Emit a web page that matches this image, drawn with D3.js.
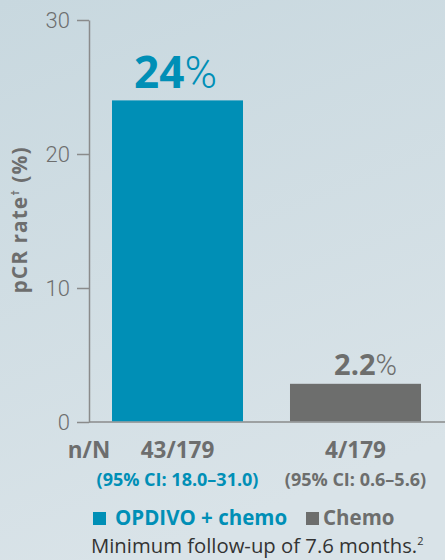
<!DOCTYPE html>
<html>
<head>
<meta charset="utf-8">
<script src="https://cdn.jsdelivr.net/npm/d3@7"></script>
<style>
  html, body { margin: 0; padding: 0; }
  body { width: 445px; height: 560px; overflow: hidden; }
  svg { display: block; font-family: "Open Sans", "Noto Sans", sans-serif; }
</style>
</head>
<body>
<div id="chart"></div>
<script>
// data
const groups = ["OPDIVO + chemo", "Chemo"];
const barValues = [24, 2.85];          // drawn bar heights (the small bar is drawn taller than 2.2)
const rateNum = ["24", "2.2"];         // value labels above bars
const nOverN = ["43/179", "4/179"];
const ciLabels = ["(95% CI: 18.0\u201331.0)", "(95% CI: 0.6\u20135.6)"];
const yTicks = [0, 10, 20, 30];
const colors = ["#008fb6", "#6d6e6d"];

const width = 445;
const height = 560;
const margin = { top: 20, left: 89, right: 0, bottom: 138 };

const svg = d3.select("#chart")
    .append("svg")
    .attr("width", width)
    .attr("height", height);

// background gradient
const defs = svg.append("defs");
const grad = defs.append("linearGradient")
    .attr("id", "bg")
    .attr("x1", 0).attr("y1", 0).attr("x2", 0.3).attr("y2", 1);
grad.append("stop").attr("offset", "0%").attr("stop-color", "#c8d8df");
grad.append("stop").attr("offset", "100%").attr("stop-color", "#d9e3e8");
svg.append("rect").attr("width", width).attr("height", height).attr("fill", "url(#bg)");

/*
SCALES
*/
const xScale = d3.scaleBand()
    .domain(groups)
    .range([112, 421])
    .paddingInner(0.264)
    .paddingOuter(0);

const yScale = d3.scaleLinear()
    .domain([0, 30])
    .range([height - margin.bottom, margin.top]);

/*
AXES
*/
const yAxis = svg.append("g")
    .attr("transform", `translate(${margin.left},0)`)
    .call(d3.axisLeft(yScale).tickValues(yTicks).tickSize(12).tickPadding(7).tickSizeOuter(0));

yAxis.select(".domain").attr("stroke", "#8a8b8b").attr("stroke-width", 1.5);
yAxis.selectAll(".tick line").attr("stroke", "#8a8b8b").attr("stroke-width", 1.5);
yAxis.selectAll(".tick text")
    .attr("fill", "#6d6e6e")
    .attr("font-family", "Roboto, sans-serif")
    .attr("font-size", 22)
    .attr("font-weight", 300)
    .attr("dy", "0.36em");

// baseline
svg.append("line")
    .attr("x1", margin.left).attr("x2", width)
    .attr("y1", yScale(0)).attr("y2", yScale(0))
    .attr("stroke", "#8a8b8b").attr("stroke-width", 1.5);

/*
BARS
*/
svg.selectAll(".bar")
    .data(groups)
    .enter()
    .append("rect")
    .attr("class", "bar")
    .attr("x", d => xScale(d))
    .attr("y", (d, i) => yScale(barValues[i]))
    .attr("width", xScale.bandwidth())
    .attr("height", (d, i) => yScale(0) - yScale(barValues[i]) - 0.75)
    .attr("fill", (d, i) => colors[i]);

// value labels
const valueSizes = [44, 29];
const valueOffsets = [-2, 10];
groups.forEach(function (g, i) {
    const t = svg.append("text")
        .attr("x", xScale(g) + xScale.bandwidth() / 2 + valueOffsets[i])
        .attr("y", yScale(barValues[i]) - (i == 0 ? 12 : 9))
        .attr("text-anchor", "middle")
        .attr("fill", colors[i])
        .attr("font-size", valueSizes[i]);
    t.append("tspan").attr("font-weight", 700).text(rateNum[i]);
    t.append("tspan").attr("font-weight", 300).attr("font-family", "Roboto, sans-serif").text("%");
});

/*
Y AXIS TITLE
*/
const yTitle = svg.append("text")
    .attr("transform", "translate(27,220) rotate(-90)")
    .attr("text-anchor", "middle")
    .attr("fill", "#6d6e6e")
    .attr("font-size", 21)
    .attr("letter-spacing", 1)
    .attr("font-weight", 700);
yTitle.append("tspan").text("pCR rate");
yTitle.append("tspan").attr("font-size", 11).attr("dy", -8).text("\u2020");
yTitle.append("tspan").attr("dy", 8).text(" (%)");

/*
n/N AND CI ROWS
*/
svg.append("text")
    .attr("x", 89).attr("y", 458)
    .attr("text-anchor", "middle")
    .attr("fill", "#6d6e6e")
    .attr("font-size", 22.5)
    .attr("font-weight", 700)
    .text("n/N");

svg.selectAll(".nn")
    .data(groups)
    .enter()
    .append("text")
    .attr("class", "nn")
    .attr("x", d => xScale(d) + xScale.bandwidth() / 2)
    .attr("y", 458)
    .attr("text-anchor", "middle")
    .attr("fill", "#6d6e6e")
    .attr("font-size", 22.5)
    .attr("font-weight", 700)
    .text((d, i) => nOverN[i]);

svg.selectAll(".ci")
    .data(groups)
    .enter()
    .append("text")
    .attr("class", "ci")
    .attr("x", d => xScale(d) + xScale.bandwidth() / 2)
    .attr("y", 486)
    .attr("text-anchor", "middle")
    .attr("fill", (d, i) => colors[i])
    .attr("font-size", 18)
    .attr("font-weight", 700)
    .text((d, i) => ciLabels[i]);

/*
LEGEND
*/
const legendX = [93, 306];
const legend = svg.selectAll(".legend")
    .data(groups)
    .enter()
    .append("g")
    .attr("class", "legend")
    .attr("transform", (d, i) => `translate(${legendX[i]},512)`);
legend.append("rect")
    .attr("width", 13).attr("height", 13)
    .attr("fill", (d, i) => colors[i]);
legend.append("text")
    .attr("x", (d, i) => i == 0 ? 22 : 17)
    .attr("y", 13)
    .attr("fill", (d, i) => colors[i])
    .attr("font-size", 20.5)
    .attr("font-weight", 700)
    .text(d => d);

// footnote
const foot = svg.append("text")
    .attr("x", 91).attr("y", 553)
    .attr("fill", "#333333")
    .attr("font-size", 20.3);
foot.append("tspan").text("Minimum follow-up of 7.6 months.");
foot.append("tspan").attr("font-size", 11).attr("dy", -8).text("2");
</script>
</body>
</html>
